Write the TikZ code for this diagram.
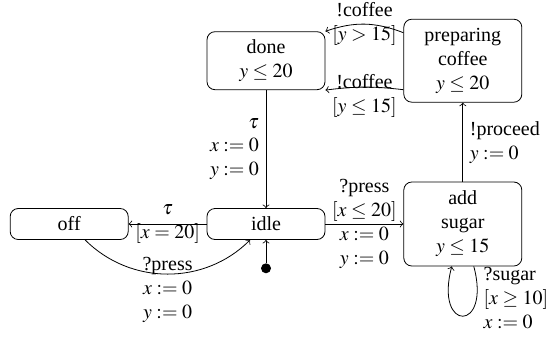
\documentclass[tikz,border=0pt]{standalone}
\usepackage{mathptmx}
\usepackage{fontspec}
\setmainfont{Liberation Serif}
\usetikzlibrary{positioning}
\tikzset{location/.style={draw, rounded corners=4pt, align=center,
        minimum width=59pt, inner ysep=2pt},
    initial/.style={circle, fill, inner sep=0pt, minimum size=5pt}}

\begin{document}
\begin{tikzpicture}[>=to]
    \useasboundingbox (0,0) rectangle (273pt,-171.5pt);
    % locations
    \node[location, minimum height=15.5pt] (idle) at (133pt,-112pt) {idle};
    \node[location, minimum height=15.5pt, left=39pt of idle] (off) {off};
    \node[location, minimum height=42pt, right=39pt of idle] (sugar)
      {add\\sugar\\$y \le 15$};
    \node[location, minimum height=29pt, above=59pt of idle] (done)
      {done\\$y \le 20$};
    \node[location, minimum height=41.5pt, above=39.5pt of sugar] (prep)
      {preparing\\coffee\\$y \le 20$};
    \node[initial, below=11.5pt of idle] (init) {};
    % edges
    \draw[->] (init) -- (idle);
    \draw[->] (done) -- node[left, midway, align=right]
      {$\tau$\\$x := 0$\\$y := 0$} (idle);
    \draw[->] (idle) -- node[midway, align=center] {$\tau$\\$[x = 20]$} (off);
    \draw[->] (off.-45) to[bend right=45]
      node[midway, yshift=-8pt, align=center] {?press\\$x := 0$\\$y := 0$}
      (idle.-135);
    \draw[->] (idle) -- node[midway, align=center]
      {?press\\$[x \le 20]$\\$x := 0$\\$y := 0$} (sugar);
    \draw[->] (sugar) -- node[right, align=left] {!proceed\\$y := 0$} (prep);
    \draw[->] ([yshift=14pt]prep.west) to[bend right=20]
      node[midway, align=center] {!coffee\\$[y > 15]$} (done.north east);
    \draw[->] ([yshift=-14.5pt]prep.west) to[bend right=7]
      node[midway, yshift=-4.5pt, align=center] {!coffee\\$[y \le 15]$}
      (done.south east);
    \draw[->] ([xshift=5.5pt]sugar.south) to[out=-75, in=-105, looseness=8]
      node[right, pos=0.2, align=left] {?sugar\\$[x \ge 10]$\\$x := 0$}
      ([xshift=-5.5pt]sugar.south);
\end{tikzpicture}
\end{document}
